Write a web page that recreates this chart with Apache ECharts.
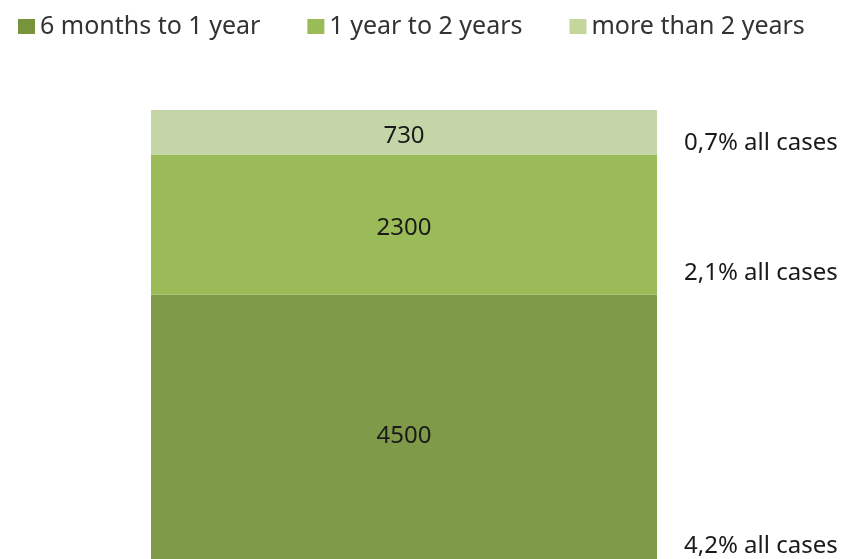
<!DOCTYPE html>
<html>
<head>
<meta charset="utf-8">
<script src="https://cdn.jsdelivr.net/npm/echarts@6/dist/echarts.min.js"></script>
<style>
html,body{margin:0;padding:0;background:#fff;overflow:hidden;}
/* the original picture is cut off just above the bar's base, so the chart runs a bit past the window */
#main{width:845px;height:569px;}
</style>
</head>
<body>
<div id="main"></div>
<script>
// data
var seriesNames = ['6 months to 1 year', '1 year to 2 years', 'more than 2 years'];
var seriesValues = [4500, 2300, 730];
var shareLabels = ['4,2% all cases', '2,1% all cases', '0,7% all cases'];
var category = ['cases'];

var colors = ['#7F9A48', '#9BBB59', '#C4D5A8'];
var legendColors = ['#77933C', '#9BBB59', '#C3D69B'];
var shareOffsets = [-11, -10, 1];
var fontName = 'Noto Sans';

var chart = echarts.init(document.getElementById('main'));

var series = [];
seriesNames.forEach(function(name, i){
	series.push({
		name: name,
		type: 'bar',
		stack: 'total',
		barWidth: '100%',
		itemStyle: {color: colors[i]},
		label: {
			show: true,
			position: 'inside',
			offset: [0, 4],
			color: '#1a1a1a',
			fontFamily: fontName,
			fontSize: 24
		},
		data: [seriesValues[i]]
	});
});
// transparent copy, only to carry the share labels at the right side
seriesNames.forEach(function(name, i){
	series.push({
		name: name + ' share',
		type: 'bar',
		stack: 'share',
		barWidth: '100%',
		barGap: '-100%',
		silent: true,
		itemStyle: {color: 'rgba(0,0,0,0)'},
		label: {
			show: true,
			position: ['100%', '100%'],
			align: 'left',
			verticalAlign: 'bottom',
			offset: [27, shareOffsets[i]],
			formatter: shareLabels[i],
			color: '#1a1a1a',
			fontFamily: fontName,
			fontSize: 24
		},
		data: [seriesValues[i]]
	});
});

var option = {
	animation: false,
	legend: {
		data: seriesNames.map(function(n, i){
			return {name: n, itemStyle: {color: legendColors[i]}};
		}),
		left: 13,
		top: 9,
		icon: 'rect',
		itemWidth: 17,
		itemHeight: 15,
		itemGap: 47,
		textStyle: {color: '#333', fontFamily: fontName, fontSize: 25}
	},
	grid: {left: 151, right: 188, top: 110, bottom: 0},
	xAxis: {type: 'category', data: category, show: false},
	yAxis: {type: 'value', min: 0, max: 7530, show: false},
	series: series
};
chart.setOption(option);
</script>
</body>
</html>
